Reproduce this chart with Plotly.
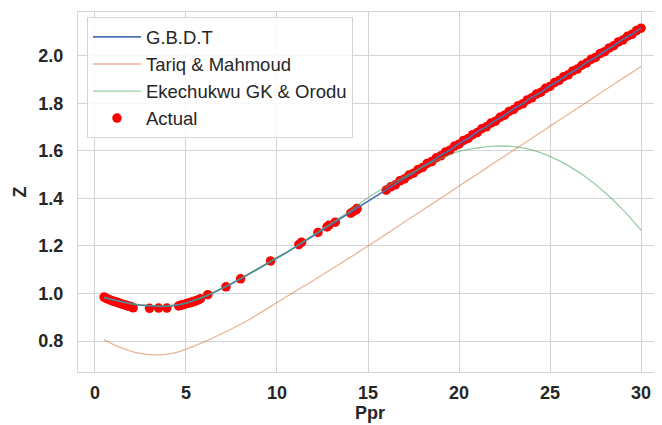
import plotly.graph_objects as go

# ---- data ----
gbdt_ppr = [0.5, 1.0, 1.5, 2.0, 2.5, 3.0, 3.5, 4.0, 4.5, 5.0, 5.5, 6.0, 6.5, 7.0, 7.5, 8.0,
            8.5, 9.0, 9.5, 10.0, 10.5, 11.0, 11.5, 12.0, 12.5, 13.0, 13.5, 14.0, 14.5, 15.0,
            15.5, 16.0, 16.5, 17.0, 17.5, 18.0, 18.5, 19.0, 19.5, 20.0, 20.5, 21.0, 21.5,
            22.0, 22.5, 23.0, 23.5, 24.0, 24.5, 25.0, 25.5, 26.0, 26.5, 27.0, 27.5, 28.0,
            28.5, 29.0, 29.5, 30.0]
gbdt_z = [0.983, 0.973, 0.964, 0.956, 0.951, 0.948, 0.946, 0.947, 0.951, 0.959, 0.971, 0.986,
          1.003, 1.021, 1.041, 1.062, 1.083, 1.105, 1.127, 1.149, 1.171, 1.194, 1.218, 1.243,
          1.268, 1.292, 1.316, 1.339, 1.362, 1.388, 1.412, 1.437, 1.460, 1.486, 1.507, 1.534,
          1.556, 1.582, 1.604, 1.631, 1.652, 1.680, 1.701, 1.728, 1.750, 1.777, 1.798, 1.826,
          1.846, 1.874, 1.896, 1.923, 1.944, 1.972, 1.993, 2.020, 2.042, 2.069, 2.090, 2.117]

corr_ppr = [0.5, 1.0, 1.5, 2.0, 2.5, 3.0, 3.5, 4.0, 4.5, 5.0, 6.0, 7.0, 8.0, 9.0, 10.0, 11.0,
            12.0, 13.0, 14.0, 15.0, 16.0, 17.0, 18.0, 19.0, 20.0, 21.0, 22.0, 23.0, 24.0, 25.0,
            26.0, 27.0, 28.0, 29.0, 30.0]
tariq_z = [0.806, 0.786, 0.770, 0.757, 0.748, 0.743, 0.742, 0.745, 0.753, 0.766, 0.797, 0.832,
           0.871, 0.915, 0.962, 1.009, 1.055, 1.103, 1.151, 1.200, 1.250, 1.301, 1.351, 1.401,
           1.452, 1.502, 1.553, 1.603, 1.653, 1.704, 1.754, 1.804, 1.855, 1.905, 1.955]
ekechukwu_z = [0.984, 0.974, 0.965, 0.957, 0.952, 0.949, 0.947, 0.948, 0.952, 0.960, 0.988,
               1.023, 1.063, 1.107, 1.152, 1.197, 1.247, 1.297, 1.347, 1.403, 1.450, 1.492,
               1.532, 1.567, 1.598, 1.612, 1.620, 1.618, 1.604, 1.577, 1.538, 1.488, 1.426,
               1.353, 1.266]

actual_ppr = [0.5, 0.6, 0.7, 0.8, 0.9, 1.0, 1.1, 1.2, 1.3, 1.4, 1.5, 1.6, 1.7, 1.8, 1.9, 2.0,
              2.1, 3.0, 3.5, 3.95, 4.6, 4.7, 4.8, 4.9, 5.0, 5.1, 5.2, 5.3, 5.4, 5.5, 5.6, 5.7,
              5.8, 6.2, 7.2, 8.0, 9.65, 11.2, 11.35, 12.25, 12.75, 12.85, 13.2, 14.05, 14.2,
              14.35, 14.4,
              16.0, 16.25, 16.5, 16.75, 17.0, 17.25, 17.5, 17.75, 18.0, 18.25, 18.5, 18.75,
              19.0, 19.25, 19.5, 19.75, 20.0, 20.25, 20.5, 20.75, 21.0, 21.25, 21.5, 21.75,
              22.0, 22.25, 22.5, 22.75, 23.0, 23.25, 23.5, 23.75, 24.0, 24.25, 24.5, 24.75,
              25.0, 25.25, 25.5, 25.75, 26.0, 26.25, 26.5, 26.75, 27.0, 27.25, 27.5, 27.75,
              28.0, 28.25, 28.5, 28.75, 29.0, 29.25, 29.5, 29.75, 30.0]
actual_z = [0.985, 0.981, 0.977, 0.974, 0.971, 0.968, 0.966, 0.963, 0.961, 0.958, 0.955, 0.953,
            0.951, 0.948, 0.946, 0.944, 0.940, 0.938, 0.939, 0.939, 0.948, 0.951, 0.952, 0.954,
            0.957, 0.959, 0.961, 0.963, 0.966, 0.968, 0.971, 0.974, 0.978, 0.995, 1.028, 1.062,
            1.137, 1.206, 1.216, 1.257, 1.280, 1.287, 1.300, 1.338, 1.345, 1.352, 1.358,
            1.435, 1.449, 1.457, 1.474, 1.482, 1.498, 1.506, 1.522, 1.530, 1.547, 1.555, 1.571,
            1.579, 1.595, 1.603, 1.620, 1.628, 1.644, 1.652, 1.668, 1.677, 1.693, 1.701, 1.717,
            1.725, 1.741, 1.750, 1.766, 1.774, 1.790, 1.798, 1.814, 1.823, 1.839, 1.847, 1.863,
            1.871, 1.887, 1.896, 1.912, 1.920, 1.936, 1.944, 1.960, 1.969, 1.985, 1.993, 2.009,
            2.017, 2.033, 2.042, 2.058, 2.066, 2.082, 2.090, 2.106, 2.116]

x_ticks = [0, 5, 10, 15, 20, 25, 30]
y_ticks = [0.8, 1.0, 1.2, 1.4, 1.6, 1.8, 2.0]
y_tick_labels = ["0.8", "1.0", "1.2", "1.4", "1.6", "1.8", "2.0"]

# ---- figure ----
fig = go.Figure()
fig.add_trace(go.Scatter(x=actual_ppr, y=actual_z, mode="markers", name="Actual",
                         marker=dict(color="#ff0000", size=9.5, line=dict(width=0)),
                         legendrank=4))
fig.add_trace(go.Scatter(x=gbdt_ppr, y=gbdt_z, mode="lines", name="G.B.D.T",
                         line=dict(color="#4c72b0", width=1.7), legendrank=1))
fig.add_trace(go.Scatter(x=corr_ppr, y=tariq_z, mode="lines", name="Tariq & Mahmoud",
                         line=dict(color="rgba(221,132,82,0.6)", width=1.3, shape="spline"),
                         legendrank=2))
fig.add_trace(go.Scatter(x=corr_ppr, y=ekechukwu_z, mode="lines", name="Ekechukwu GK & Orodu",
                         line=dict(color="rgba(85,168,104,0.6)", width=1.3, shape="spline"),
                         legendrank=3))

grid = "#d4d4d4"
# page body has an 8px margin; the figure is sized to fill the rest of the window
fig.update_layout(
    width=654, height=417,
    margin=dict(l=70, r=0, t=4, b=53),
    paper_bgcolor="white", plot_bgcolor="white",
    font=dict(family="Liberation Sans, Arial, sans-serif", color="#262626"),
    showlegend=True,
    legend=dict(x=0.0154, y=0.985, xanchor="left", yanchor="top",
                bgcolor="rgba(255,255,255,0.85)", bordercolor="#d4d4d4", borderwidth=1,
                font=dict(size=18.5, color="#262626"), traceorder="normal",
                itemwidth=48),
)
fig.update_xaxes(range=[-0.93, 31.15], tickvals=x_ticks, showgrid=True, gridcolor=grid,
                 gridwidth=1.3, zeroline=False, showline=True, linecolor=grid, linewidth=1.3,
                 mirror=True, ticks="", ticklabelstandoff=4,
                 tickfont=dict(size=18, weight="bold", color="#262626"),
                 title=dict(text="Ppr", font=dict(size=18, weight="bold", color="#262626"),
                            standoff=0))
fig.update_yaxes(range=[0.670, 2.184], tickvals=y_ticks, ticktext=y_tick_labels, showgrid=True,
                 gridcolor=grid, gridwidth=1.3, zeroline=False, showline=True, linecolor=grid,
                 linewidth=1.3, ticks="", ticklabelstandoff=10,
                 tickfont=dict(size=18, weight="bold", color="#262626"),
                 title=dict(text="Z", font=dict(size=18, weight="bold", color="#262626"),
                            standoff=6))

fig.write_html("out.html")
